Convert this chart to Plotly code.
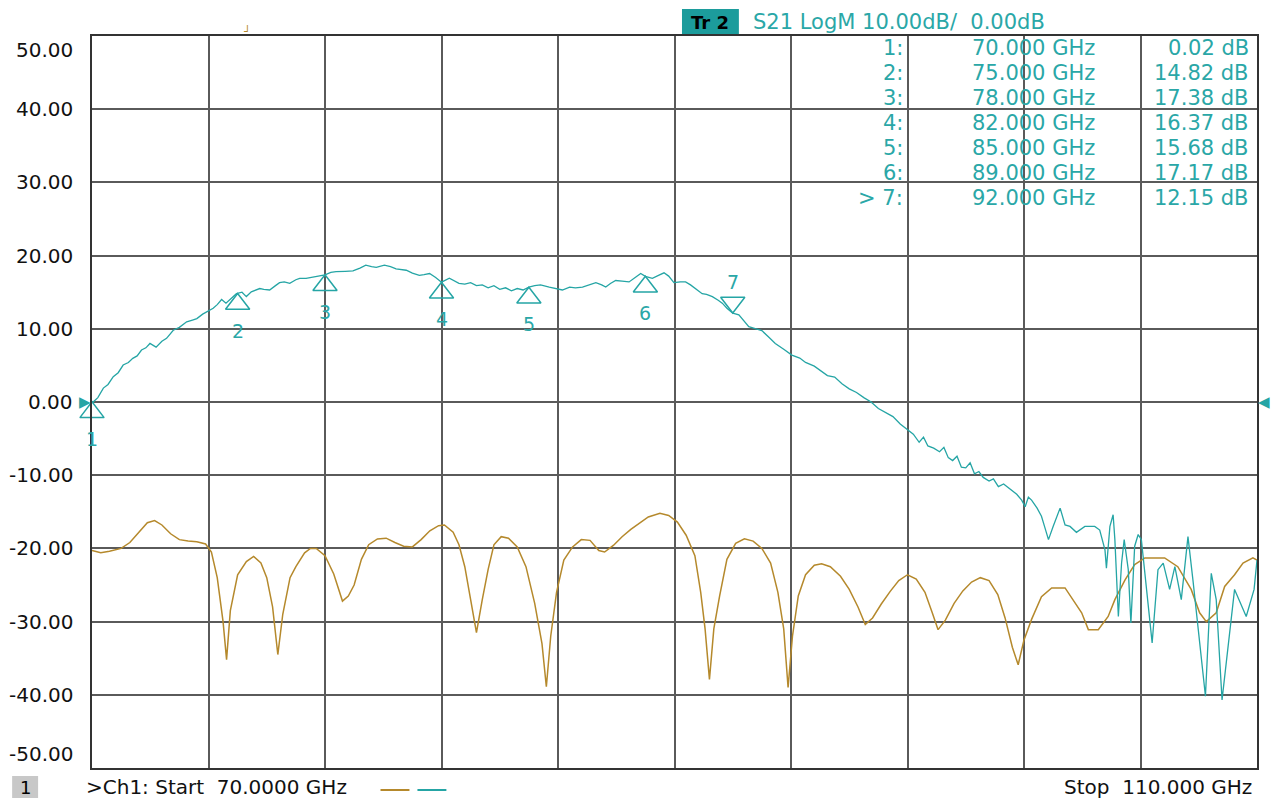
import plotly.graph_objects as go

# ---------------- data ----------------
freq_s21 = [70.00, 70.04, 70.2, 70.39, 70.55, 70.73, 70.9, 71.07, 71.25, 71.4, 71.55, 71.7, 71.85, 71.99,
            72.2, 72.4, 72.56, 72.79, 73.0, 73.25, 73.45, 73.6, 73.8, 73.93, 74.16, 74.3, 74.45, 74.6,
            74.75, 74.96, 75.15, 75.3, 75.47, 75.6, 75.76, 75.9, 76.1, 76.3, 76.44, 76.6, 76.79, 77.0,
            77.13, 77.35, 77.59, 77.8, 78.0, 78.2, 78.38, 78.7, 78.96, 79.2, 79.4, 79.6, 79.76, 80.04,
            80.25, 80.44, 80.6, 80.79, 81.0, 81.24, 81.4, 81.59, 81.8, 82.0, 82.27, 82.45, 82.6, 82.8,
            83.0, 83.2, 83.4, 83.6, 83.8, 84.0, 84.2, 84.4, 84.6, 84.8, 85.0, 85.2, 85.4, 85.7, 85.9,
            86.15, 86.4, 86.6, 86.84, 87.05, 87.3, 87.5, 87.64, 87.8, 87.98, 88.2, 88.44, 88.65, 88.84,
            89.0, 89.24, 89.45, 89.64, 89.8, 89.98, 90.2, 90.38, 90.55, 90.72, 90.95, 91.1, 91.3, 91.5,
            91.64, 91.8, 92.0, 92.21, 92.4, 92.55, 92.8, 93.0, 93.25, 93.46, 93.75, 94.03, 94.3, 94.5,
            94.8, 95.0, 95.25, 95.5, 95.75, 96.0, 96.25, 96.5, 96.75, 97.0, 97.25, 97.5, 97.75, 98.0,
            98.2, 98.4, 98.55, 98.7, 98.9, 99.1, 99.25, 99.4, 99.55, 99.7, 99.85, 100.0, 100.15, 100.3,
            100.45, 100.6, 100.8, 100.95, 101.12, 101.3, 101.58, 101.75, 101.92, 102.04, 102.15, 102.26,
            102.45, 102.6, 102.72, 102.84, 103.0, 103.24, 103.41, 103.58, 103.8, 104.09, 104.43, 104.6,
            104.78, 104.83, 104.95, 105.06, 105.12, 105.24, 105.35, 105.44, 105.58, 105.67, 105.8,
            105.92, 106.03, 106.2, 106.4, 106.6, 106.78, 107.0, 107.18, 107.4, 107.63, 107.8, 108.03,
            108.23, 108.43, 108.6, 108.8, 109.0, 109.23, 109.63, 109.9, 110.0]
s21_db = [0.02, 0.0, 0.6, 1.9, 2.4, 3.45, 4.0, 5.05, 5.4, 5.96, 6.3, 7.1, 7.4, 8.0,
          7.5, 8.3, 8.7, 9.8, 10.2, 10.95, 11.2, 11.4, 12.0, 12.3, 12.8, 13.3, 14.0, 13.5,
          14.0, 14.8, 15.0, 14.4, 15.05, 15.3, 15.5, 15.4, 15.3, 15.9, 16.3, 16.4, 16.2, 16.7,
          16.9, 16.9, 17.1, 17.3, 17.38, 17.7, 17.8, 17.85, 17.9, 18.3, 18.7, 18.5, 18.4, 18.7,
          18.5, 18.2, 18.1, 18.0, 17.6, 17.3, 17.4, 17.55, 17.0, 16.37, 16.9, 16.5, 16.2, 16.1,
          16.3, 15.9, 16.0, 15.6, 15.9, 15.4, 15.6, 15.2, 15.5, 15.3, 15.68, 15.9, 16.0, 15.7, 15.5,
          15.3, 15.7, 15.6, 15.7, 16.0, 16.3, 16.0, 15.7, 16.2, 16.6, 16.5, 16.4, 17.0, 17.55,
          17.17, 16.9, 17.3, 17.65, 17.2, 16.3, 16.4, 16.4, 16.0, 15.5, 14.8, 14.7, 14.4, 13.9,
          13.5, 12.8, 12.15, 11.9, 11.0, 10.3, 10.0, 9.75, 8.8, 8.0, 7.2, 6.4, 6.0, 5.4,
          4.9, 4.3, 3.6, 3.4, 2.5, 1.8, 1.3, 0.6, 0.0, -0.9, -1.5, -2.0, -3.0, -3.8,
          -4.4, -5.5, -4.8, -6.0, -6.3, -6.8, -6.2, -7.6, -8.0, -7.4, -8.9, -9.0, -8.3, -9.8,
          -9.5, -10.3, -10.8, -10.5, -11.55, -11.2, -12.0, -12.6, -13.4, -14.3, -13.0, -13.4,
          -14.5, -15.6, -17.2, -18.8, -17.0, -14.5, -16.8, -17.0, -17.8, -17.0, -17.0, -17.5,
          -20.2, -22.7, -17.0, -15.4, -18.8, -29.3, -22.0, -18.8, -22.9, -30.2, -19.7,
          -18.1, -18.8, -25.6, -32.9, -22.9, -22.0, -25.6, -22.5, -27.0, -18.4, -24.3, -32.9,
          -40.2, -23.4, -27.0, -40.7, -33.4, -25.6, -29.3, -25.6, -21.6]

freq_s11 = [70.0, 70.3, 70.6, 71.0, 71.3, 71.6, 71.9, 72.15, 72.4, 72.7, 73.0, 73.3, 73.6, 73.9,
            74.1, 74.3, 74.5, 74.62, 74.75, 75.0, 75.3, 75.55, 75.8, 76.0, 76.2, 76.38, 76.55, 76.8,
            77.0, 77.3, 77.5, 77.7, 78.0, 78.3, 78.6, 78.8, 79.0, 79.25, 79.5, 79.8, 80.1, 80.4,
            80.7, 81.0, 81.3, 81.6, 81.9, 82.1, 82.4, 82.6, 82.8, 83.0, 83.2, 83.4, 83.6, 83.8,
            84.05, 84.3, 84.6, 84.9, 85.2, 85.45, 85.6, 85.75, 85.95, 86.2, 86.5, 86.8, 87.1, 87.4,
            87.6, 87.9, 88.2, 88.5, 88.8, 89.1, 89.5, 89.8, 90.1, 90.4, 90.7, 90.9, 91.05, 91.2,
            91.35, 91.55, 91.8, 92.1, 92.4, 92.7, 93.0, 93.3, 93.55, 93.75, 93.9, 94.05, 94.25,
            94.5, 94.8, 95.05, 95.35, 95.7, 96.0, 96.3, 96.55, 96.8, 97.1, 97.4, 97.7, 98.0,
            98.3, 98.6, 98.85, 99.05, 99.3, 99.6, 99.9, 100.2, 100.5, 100.8, 101.1, 101.35, 101.6,
            101.8, 102.0, 102.26, 102.6, 102.95, 103.41, 103.75, 103.98, 104.21, 104.55, 104.89,
            105.12, 105.47, 105.8, 106.15, 106.83, 107.28, 107.74, 108.03, 108.26, 108.6, 108.89,
            109.23, 109.52, 109.86, 110.0]
s11_db = [-20.3, -20.6, -20.4, -20.0, -19.2, -17.8, -16.5, -16.2, -16.8, -18.0, -18.8, -19.0, -19.1, -19.4,
          -20.5, -24.0, -30.0, -35.2, -28.5, -23.6, -21.8, -21.1, -22.0, -24.0, -28.0, -34.5, -29.0, -24.0,
          -22.5, -20.6, -20.0, -20.0, -21.0, -23.5, -27.2, -26.5, -25.0, -21.5, -19.5, -18.7, -18.6, -19.2,
          -19.7, -19.8, -18.8, -17.6, -16.9, -16.8, -17.8, -19.5, -22.5, -27.0, -31.5, -27.0, -22.9, -19.5,
          -18.4, -18.6, -19.8, -22.5, -27.5, -33.0, -38.9, -32.0, -26.0, -21.6, -19.8, -18.8, -18.9, -20.3,
          -20.5, -19.6, -18.4, -17.4, -16.5, -15.7, -15.2, -15.5, -16.4, -18.2, -21.0, -26.0, -31.0, -37.9,
          -31.0, -26.5, -21.5, -19.3, -18.7, -19.0, -20.0, -22.0, -26.0, -31.0, -39.0, -32.0, -26.5,
          -23.6, -22.3, -22.1, -22.5, -23.8, -25.6, -28.0, -30.4, -29.5, -27.6, -25.9, -24.4, -23.6,
          -24.2, -26.0, -28.8, -31.1, -29.8, -27.5, -25.8, -24.6, -24.0, -24.4, -26.3, -29.5, -33.5,
          -35.9, -32.5, -29.7, -26.6, -25.4, -25.4, -27.4, -28.8, -31.1, -31.1, -29.3,
          -27.0, -24.3, -22.2, -21.3, -21.3, -22.5, -25.6, -28.8, -30.0, -28.8, -25.2,
          -23.6, -22.0, -21.3, -21.6]

marker_freq = [70.0, 75.0, 78.0, 82.0, 85.0, 89.0, 92.0]
marker_db = [0.02, 14.82, 17.38, 16.37, 15.68, 17.17, 12.15]
marker_ids = [1, 2, 3, 4, 5, 6, 7]
active_marker = 7

y_ticks = [50, 40, 30, 20, 10, 0, -10, -20, -30, -40, -50]
x_start, x_stop, x_div = 70.0, 110.0, 4.0
ref_level = 0.0
scale_per_div = 10.0
trace_name = "Tr 2"
trace_desc = "S21 LogM"

# ---------------- style ----------------
W, H = 1271, 801
ML, MR, MT, MB = 92, 12, 36, 33
PW, PH = W - ML - MR, H - MT - MB
TEAL = "#25a5a5"
TEAL_TXT = "#2aa7a7"
BROWN = "#b5892c"
FONT = "DejaVu Sans"


def px(x):
    return (x - ML) / PW


def py(y):
    return (H - MB - y) / PH


y_min, y_max = min(y_ticks), max(y_ticks)
px_per_db = PH / (y_max - y_min)

fig = go.Figure()

fig.add_trace(go.Scatter(x=freq_s11, y=s11_db, mode="lines",
                         line=dict(color=BROWN, width=1.5), hoverinfo="skip"))
fig.add_trace(go.Scatter(x=freq_s21, y=s21_db, mode="lines",
                         line=dict(color=TEAL, width=1.3), hoverinfo="skip"))

# marker triangles (apex on the trace)
msize = 21
off = (msize / 2) / px_per_db
up_f = [f for f, i in zip(marker_freq, marker_ids) if i != active_marker]
up_v = [v - off for v, i in zip(marker_db, marker_ids) if i != active_marker]
dn_f = [f for f, i in zip(marker_freq, marker_ids) if i == active_marker]
dn_v = [v + off for v, i in zip(marker_db, marker_ids) if i == active_marker]
fig.add_trace(go.Scatter(x=up_f, y=up_v, mode="markers", cliponaxis=False,
                         marker=dict(symbol="triangle-up-open", size=msize,
                                     line=dict(color=TEAL, width=1.5), color=TEAL),
                         hoverinfo="skip"))
fig.add_trace(go.Scatter(x=dn_f, y=dn_v, mode="markers", cliponaxis=False,
                         marker=dict(symbol="triangle-down-open", size=msize,
                                     line=dict(color=TEAL, width=1.5), color=TEAL),
                         hoverinfo="skip"))

ann = []


def note(x, y, text, size=21, color=TEAL_TXT, xanchor="center", yanchor="middle",
         xref="paper", yref="paper", **kw):
    ann.append(dict(x=x, y=y, xref=xref, yref=yref, text=text, showarrow=False,
                    xanchor=xanchor, yanchor=yanchor,
                    font=dict(family=FONT, size=size, color=color), **kw))


for f, v, i in zip(marker_freq, marker_db, marker_ids):
    note(f, v, str(i), size=19, xref="x", yref="y",
         yshift=(31 if i == active_marker else -37))

# y tick labels
for t in y_ticks:
    anchor = "top" if t == y_max else ("bottom" if t == y_min else "middle")
    note(px(75), t, f"{t:.2f}", size=20, color="#111111", xanchor="right",
         yanchor=anchor, yref="y")

# reference level arrows
note(0, ref_level, "▶", size=15, color=TEAL, xanchor="right", yref="y", xshift=1)
note(1, ref_level, "◀", size=15, color=TEAL, xanchor="left", yref="y", xshift=-1)

# header
note(px(711.5), py(22), "<b>" + trace_name.replace(" ", "\u00a0") + "</b>", size=18, color="#000000")
note(px(752), py(22), f"{trace_desc} {scale_per_div:.2f}dB/\u00a0 {ref_level:.2f}dB",
     size=21, xanchor="left")

# marker table
for k, (f, v, i) in enumerate(zip(marker_freq, marker_db, marker_ids)):
    yy = py(48 + 25 * k)
    lab = (">\u00a0" if i == active_marker else "") + f"{i}:"
    note(px(906), yy, lab, xanchor="right")
    note(px(1099), yy, f"{f:.3f} GHz", xanchor="right")
    note(px(1253), yy, f"{v:.2f} dB", xanchor="right")

# bottom status line
note(px(25), py(787), "1", size=18, color="#000000")
note(px(85), py(787), f">Ch1: Start\u00a0 {x_start:.4f} GHz", size=20, color="#111111",
     xanchor="left", borderpad=0)
note(px(1255), py(787), f"Stop\u00a0 {x_stop:.3f} GHz", size=20, color="#111111",
     xanchor="right", borderpad=0)
# small out-of-range marker glyph of trace 1
note(px(248), py(31), "┘", size=11, color=BROWN)

shapes = [
    dict(type="rect", xref="paper", yref="paper", x0=px(683), x1=px(740), y0=py(35), y1=py(9),
         fillcolor="#1c9c9c", line=dict(width=0), layer="below"),
    dict(type="rect", xref="paper", yref="paper", x0=px(12), x1=px(38), y0=py(798), y1=py(776),
         fillcolor="#c8c8c8", line=dict(width=0), layer="below"),
    dict(type="line", xref="paper", yref="paper", x0=px(381), x1=px(410), y0=py(790), y1=py(790),
         line=dict(color=BROWN, width=2)),
    dict(type="line", xref="paper", yref="paper", x0=px(418), x1=px(447), y0=py(790), y1=py(790),
         line=dict(color=TEAL, width=2)),
]

fig.update_layout(
    width=W, height=H,
    margin=dict(l=ML, r=MR, t=MT, b=MB),
    paper_bgcolor="white", plot_bgcolor="white",
    showlegend=False,
    annotations=ann, shapes=shapes,
    xaxis=dict(range=[x_start, x_stop], dtick=x_div, tick0=x_start, showticklabels=False,
               showgrid=True, gridcolor="#5a5a5a", gridwidth=1.6, zeroline=False,
               showline=True, mirror=True, linecolor="#333333", linewidth=2, ticks=""),
    yaxis=dict(range=[y_min, y_max], dtick=scale_per_div, tick0=0, showticklabels=False,
               showgrid=True, gridcolor="#5a5a5a", gridwidth=1.6, zeroline=False,
               showline=True, mirror=True, linecolor="#333333", linewidth=2, ticks=""),
)

fig.write_html("out.html")
